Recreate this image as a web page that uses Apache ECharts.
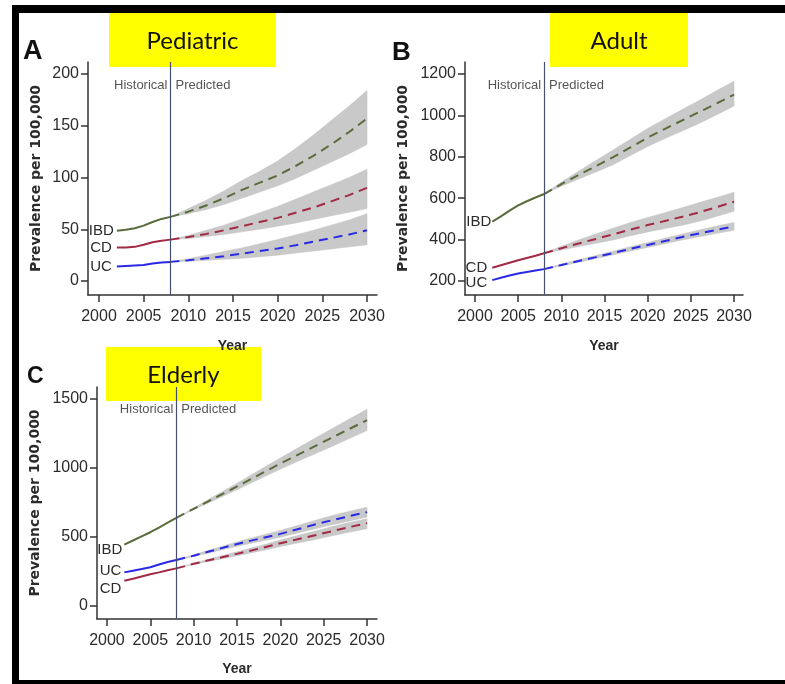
<!DOCTYPE html>
<html>
<head>
<meta charset="utf-8">
<script src="https://cdn.jsdelivr.net/npm/echarts@6/dist/echarts.min.js"></script>
<style>
  html, body { margin: 0; padding: 0; background: #fff; overflow: hidden; }
  #chart { width: 785px; height: 684px; }
</style>
</head>
<body>
<div id="chart"></div>
<script>
// Years
const histYears = [2002, 2003, 2004, 2005, 2006, 2007, 2008];
const predYears = [2008, 2010, 2012, 2014, 2016, 2018, 2020, 2022, 2024, 2026, 2028, 2030];
const xTicks = [2000, 2005, 2010, 2015, 2020, 2025, 2030];

// Pediatric prevalence per 100,000
const pedTicks = [0, 50, 100, 150, 200];
const pedIbdHist = [48.5, 49.5, 51, 53.5, 57, 60, 62];
const pedIbdPred = [62, 67, 73, 80, 88, 95, 102, 111, 121, 132, 144, 157];
const pedIbdUpper = [62, 70, 78, 87, 97, 106, 116, 128, 141, 155, 169, 184];
const pedIbdLower = [62, 65, 69, 74, 80, 86, 92, 99, 107, 115, 123, 132];
const pedCdHist = [32.5, 32.5, 33, 35, 37.5, 39, 40];
const pedCdPred = [40, 42.5, 45.5, 49, 53, 57, 61, 66, 71, 77, 83, 90];
const pedCdUpper = [40, 44, 49, 54, 60, 66, 72, 79, 86, 93, 100, 108];
const pedCdLower = [40, 41, 43, 45, 47.5, 50, 53, 56, 59.5, 63, 66.5, 70];
const pedUcHist = [14, 14.5, 15, 15.5, 17, 18, 18.5];
const pedUcPred = [18.5, 20, 22, 24, 26.5, 29, 31.5, 34.5, 38, 41.5, 45, 49];
const pedUcUpper = [18.5, 21.5, 25, 28.5, 32, 36, 40, 44.5, 49, 54, 59, 65];
const pedUcLower = [18.5, 19, 20, 21, 22, 23.5, 25, 27, 29, 31, 33, 35];

// Adult prevalence per 100,000
const adultTicks = [200, 400, 600, 800, 1000, 1200];
const adultIbdHist = [487, 512, 540, 565, 585, 603, 620];
const adultIbdPred = [620, 668, 712, 755, 798, 845, 893, 935, 976, 1017, 1058, 1100];
const adultIbdUpper = [620, 678, 730, 782, 833, 885, 937, 983, 1028, 1073, 1120, 1165];
const adultIbdLower = [620, 658, 693, 727, 762, 806, 850, 888, 925, 962, 1003, 1045];
const adultCdHist = [264, 276, 288, 300, 311, 322, 334];
const adultCdPred = [334, 358, 381, 403, 425, 448, 470, 490, 510, 532, 557, 583];
const adultCdUpper = [334, 368, 398, 427, 455, 482, 506, 530, 554, 579, 603, 628];
const adultCdLower = [334, 350, 366, 382, 398, 418, 437, 453, 469, 489, 512, 537];
const adultUcHist = [204, 215, 226, 236, 243, 250, 257];
const adultUcPred = [257, 277, 296, 315, 335, 355, 374, 393, 412, 430, 447, 463];
const adultUcUpper = [257, 282, 302, 323, 344, 365, 386, 406, 427, 446, 465, 482];
const adultUcLower = [257, 272, 290, 308, 326, 345, 362, 380, 398, 414, 430, 445];

// Elderly prevalence per 100,000
const elderTicks = [0, 500, 1000, 1500];
const elderIbdHist = [444, 474, 504, 534, 568, 603, 638];
const elderIbdPred = [638, 704, 768, 833, 899, 966, 1032, 1095, 1158, 1221, 1284, 1347];
const elderIbdUpper = [638, 710, 782, 853, 926, 1000, 1072, 1144, 1215, 1286, 1356, 1425];
const elderIbdLower = [638, 698, 755, 813, 872, 932, 992, 1048, 1103, 1158, 1215, 1272];
const elderUcHist = [243, 255, 267, 280, 300, 318, 333];
const elderUcPred = [333, 364, 398, 432, 464, 493, 522, 556, 590, 622, 651, 680];
const elderUcUpper = [333, 370, 408, 446, 482, 514, 547, 583, 620, 655, 686, 716];
const elderUcLower = [333, 358, 388, 418, 446, 472, 497, 529, 560, 589, 616, 644];
const elderCdHist = [182, 197, 213, 229, 243, 258, 272];
const elderCdPred = [272, 305, 335, 363, 392, 422, 454, 483, 512, 542, 572, 600];
const elderCdUpper = [272, 310, 344, 376, 408, 442, 477, 510, 542, 575, 605, 632];
const elderCdLower = [272, 300, 326, 350, 376, 402, 431, 456, 482, 509, 535, 560];

const COLORS = { IBD: '#5a6b3c', CD: '#a32a45', UC: '#2a2ae6' };
const SANS = '"Liberation Sans", Arial, sans-serif';
const TEXT = '#2b2b2b';
const AXIS = '#333333';

function pairs(xs, ys) { return xs.map((x, i) => [x, ys[i]]); }

// Confidence band drawn as one polygon through the axis scales
function band(idx, upper, lower) {
  return {
    type: 'custom', xAxisIndex: idx, yAxisIndex: idx, silent: true, z: 1,
    data: [[predYears[0], upper[0]]],
    renderItem(params, api) {
      const pts = [];
      predYears.forEach((y, i) => pts.push(api.coord([y, upper[i]])));
      for (let i = predYears.length - 1; i >= 0; i--) pts.push(api.coord([predYears[i], lower[i]]));
      return { type: 'polygon', shape: { points: pts }, style: { fill: '#c9c9c9', stroke: '#c0c0c0', lineWidth: 0.5 } };
    }
  };
}

function histLine(idx, name, values, labelOpt) {
  const data = pairs(histYears, values).map((p, i) => i === 0
    ? { value: p, label: Object.assign({ show: true, position: 'left', formatter: name, distance: 5,
        fontFamily: SANS, fontSize: 15, color: TEXT }, labelOpt || {}) }
    : { value: p });
  return {
    type: 'line', name, xAxisIndex: idx, yAxisIndex: idx, z: 3,
    data, symbol: 'circle', symbolSize: 0, showSymbol: true,
    lineStyle: { color: COLORS[name], width: 2 }, itemStyle: { color: COLORS[name] },
    label: { show: false }
  };
}

function predLine(idx, name, values) {
  return {
    type: 'line', name, xAxisIndex: idx, yAxisIndex: idx, z: 3,
    data: pairs(predYears, values), symbol: 'none',
    lineStyle: { color: COLORS[name], width: 2, type: [9, 6] }
  };
}

// Vertical divider plus the "Historical | Predicted" captions
function divider(idx, yText) {
  const lbl = { show: true, fontFamily: SANS, fontSize: 13, color: TEXT };
  return {
    type: 'scatter', xAxisIndex: idx, yAxisIndex: idx, z: 4, symbolSize: 0, silent: true,
    data: [
      { value: [2008, yText], label: Object.assign({}, lbl, { position: 'left', distance: 3, formatter: 'Historical' }) },
      { value: [2008, yText], label: Object.assign({}, lbl, { position: 'right', distance: 5, formatter: 'Predicted' }) }
    ],
    markLine: {
      silent: true, symbol: 'none', animation: false,
      lineStyle: { color: '#44506e', width: 1.2, type: 'solid' },
      label: { show: false },
      data: [{ xAxis: 2008 }]
    }
  };
}

const plain = v => String(v);

function xAxis(gridIndex, min, max, nameGap) {
  return {
    type: 'value', gridIndex, min, max,
    axisLine: { show: true, onZero: false, lineStyle: { color: AXIS, width: 1.5 } },
    axisTick: { show: true, length: 7, customValues: xTicks, lineStyle: { color: AXIS, width: 1.5 } },
    axisLabel: { customValues: xTicks, formatter: plain, margin: 14, fontFamily: SANS, fontSize: 16, color: TEXT },
    splitLine: { show: false },
    name: 'Year', nameLocation: 'middle', nameGap,
    nameTextStyle: { fontFamily: SANS, fontWeight: 'bold', fontSize: 14, color: TEXT }
  };
}

function yAxis(gridIndex, min, max, ticks, nameGap) {
  return {
    type: 'value', gridIndex, min, max,
    axisLine: { show: true, onZero: false, lineStyle: { color: AXIS, width: 1.5 } },
    axisTick: { show: true, length: 7, customValues: ticks, lineStyle: { color: AXIS, width: 1.5 } },
    axisLabel: { customValues: ticks, formatter: plain, margin: 9, fontFamily: SANS, fontSize: 16, color: TEXT },
    splitLine: { show: false },
    name: 'Prevalence per 100,000', nameLocation: 'middle', nameRotate: 90, nameGap,
    nameTextStyle: { fontFamily: '"DejaVu Sans", sans-serif', fontWeight: 'bold', fontSize: 14, color: TEXT }
  };
}

function tag(text, x, y, w, h) {
  return {
    type: 'group', z: 100,
    children: [
      { type: 'rect', shape: { x, y, width: w, height: h }, style: { fill: '#ffff00' } },
      { type: 'text', x: x + w / 2, y: y + h / 2 + 1,
        style: { text, fill: '#111', font: '24px Lato, "Open Sans", sans-serif', align: 'center', verticalAlign: 'middle' } }
    ]
  };
}

function letter(text, x, y, size) {
  return { type: 'text', x, y, z: 50,
    style: { text, fill: '#111', font: 'bold ' + size + 'px ' + SANS, align: 'left', verticalAlign: 'middle' } };
}

const chart = echarts.init(document.getElementById('chart'), null, { renderer: 'canvas' });

chart.setOption({
  animation: false,
  backgroundColor: '#ffffff',
  grid: [
    { left: 88, top: 62, width: 289, height: 233, outerBoundsMode: 'none' },
    { left: 465, top: 62, width: 278, height: 233, outerBoundsMode: 'none' },
    { left: 97, top: 387, width: 280, height: 232, outerBoundsMode: 'none' }
  ],
  xAxis: [
    xAxis(0, 1998.77, 2031.12, 44),
    xAxis(1, 1998.84, 2031.04, 44),
    xAxis(2, 1998.85, 2031.15, 43)
  ],
  yAxis: [
    yAxis(0, -13.5, 211.6, pedTicks, 45),
    yAxis(1, 132, 1258, adultTicks, 55),
    yAxis(2, -95, 1587, elderTicks, 55)
  ],
  series: [
    // Pediatric
    band(0, pedIbdUpper, pedIbdLower),
    band(0, pedCdUpper, pedCdLower),
    band(0, pedUcUpper, pedUcLower),
    histLine(0, 'IBD', pedIbdHist, { distance: 3 }),
    histLine(0, 'CD', pedCdHist),
    histLine(0, 'UC', pedUcHist),
    predLine(0, 'IBD', pedIbdPred),
    predLine(0, 'CD', pedCdPred),
    predLine(0, 'UC', pedUcPred),
    divider(0, 189),
    // Adult
    band(1, adultIbdUpper, adultIbdLower),
    band(1, adultCdUpper, adultCdLower),
    band(1, adultUcUpper, adultUcLower),
    histLine(1, 'IBD', adultIbdHist, { distance: 1 }),
    histLine(1, 'CD', adultCdHist),
    histLine(1, 'UC', adultUcHist, { offset: [0, 3] }),
    predLine(1, 'IBD', adultIbdPred),
    predLine(1, 'CD', adultCdPred),
    predLine(1, 'UC', adultUcPred),
    divider(1, 1147),
    // Elderly
    band(2, elderIbdUpper, elderIbdLower),
    band(2, elderUcUpper, elderUcLower),
    band(2, elderCdUpper, elderCdLower),
    histLine(2, 'IBD', elderIbdHist, { offset: [0, 5], distance: 2 }),
    histLine(2, 'UC', elderUcHist, { offset: [0, -2], distance: 3 }),
    histLine(2, 'CD', elderCdHist, { offset: [0, 8], distance: 3 }),
    predLine(2, 'IBD', elderIbdPred),
    predLine(2, 'UC', elderUcPred),
    predLine(2, 'CD', elderCdPred),
    divider(2, 1427)
  ],
  graphic: [
    // outer frame
    { type: 'rect', z: 90, shape: { x: 12, y: 5, width: 7, height: 679 }, style: { fill: '#000' } },
    { type: 'rect', z: 90, shape: { x: 12, y: 5, width: 773, height: 8 }, style: { fill: '#000' } },
    { type: 'rect', z: 90, shape: { x: 12, y: 680, width: 773, height: 4 }, style: { fill: '#000' } },
    letter('A', 23, 52, 27),
    letter('B', 392, 53, 26),
    letter('C', 27, 377, 23),
    tag('Pediatric', 109, 13, 167, 54),
    tag('Adult', 550, 13, 138, 54),
    tag('Elderly', 106, 347, 155, 54)
  ]
});
</script>
</body>
</html>
